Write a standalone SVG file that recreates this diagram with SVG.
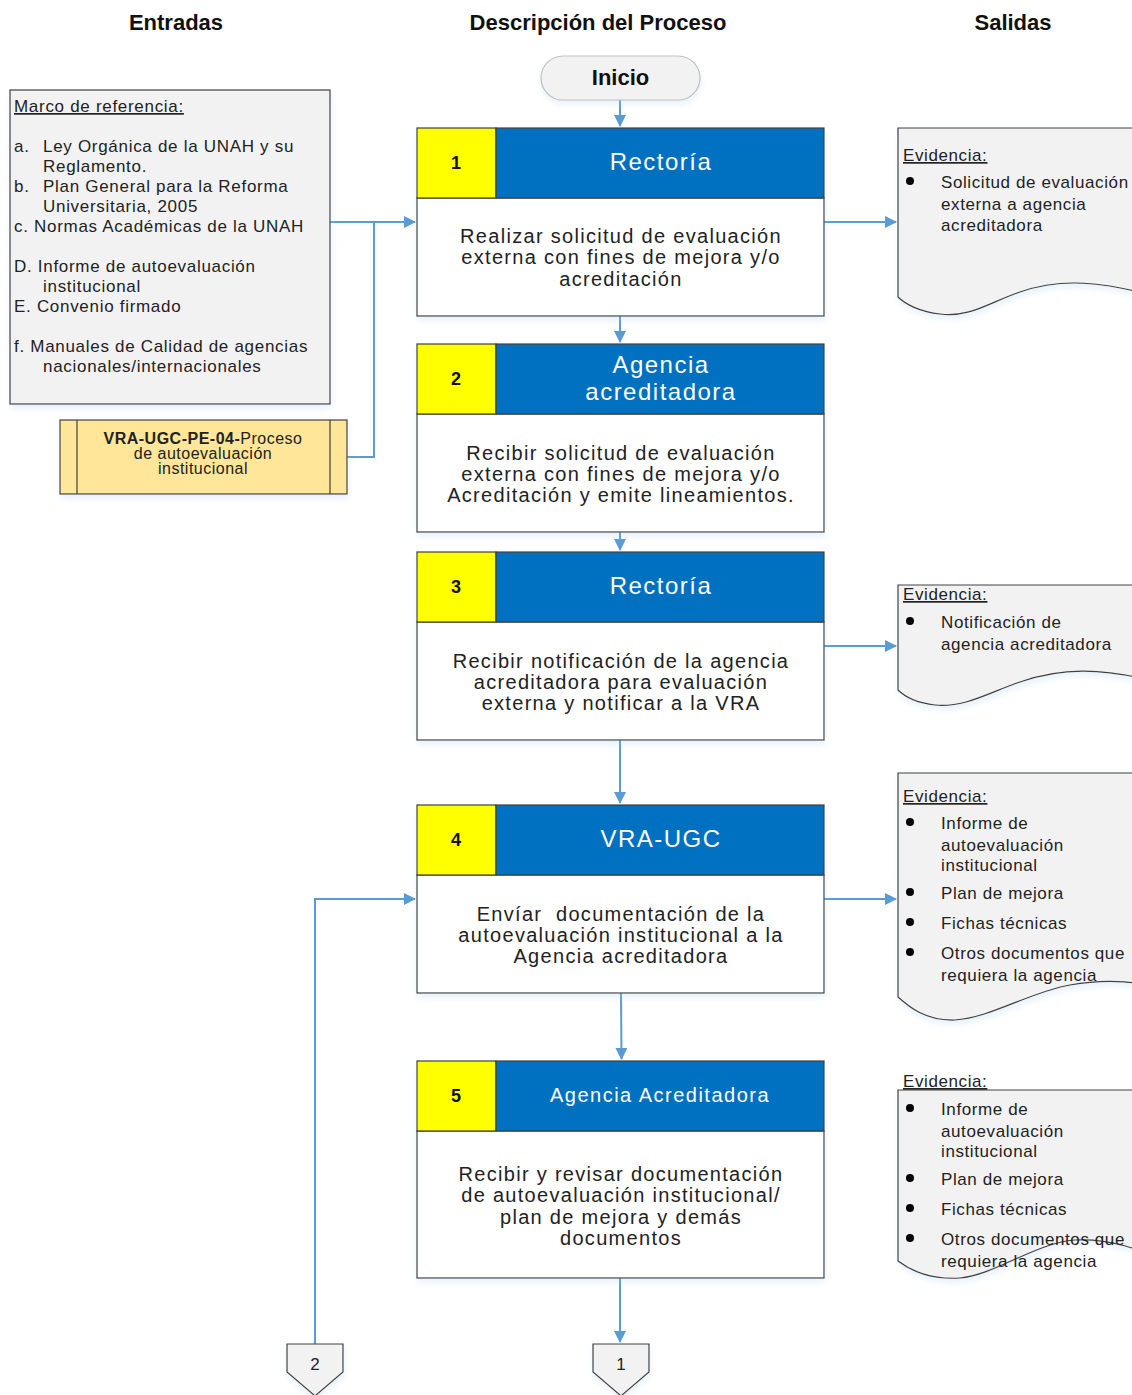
<svg xmlns="http://www.w3.org/2000/svg" width="1132" height="1395" viewBox="0 0 1132 1395">
<defs>
<style>
.t{font-family:"Liberation Sans",Arial,sans-serif;fill:#222}
.h{font-family:"Liberation Sans",Arial,sans-serif;font-weight:bold;font-size:22px;fill:#111;text-anchor:middle}
.body{font-size:20px;text-anchor:middle;letter-spacing:1.3px}
.hd{font-family:"Liberation Sans",Arial,sans-serif;fill:#fff;font-size:24px;text-anchor:middle;letter-spacing:1.5px}
.num{font-family:"Liberation Sans",Arial,sans-serif;font-weight:bold;font-size:18px;fill:#111;text-anchor:middle}
.sm{font-size:17px}
.lt{letter-spacing:0.7px}
.rt{letter-spacing:0.6px}
.box{fill:#fff;stroke:#404040;stroke-width:1.2}
.yel{fill:#ffff00;stroke:#404040;stroke-width:1.2}
.blu{fill:#0070c0;stroke:#404040;stroke-width:1.2}
.doc{fill:#f2f2f2;stroke:#404040;stroke-width:1.2}
.con{fill:none;stroke:#5b9bd5;stroke-width:2}
</style>
<marker id="ah" markerWidth="12" markerHeight="12" refX="11" refY="6" orient="auto" markerUnits="userSpaceOnUse">
<path d="M0,0 L12,6 L0,12 Z" fill="#5b9bd5"/>
</marker>
<filter id="sh" x="-10%" y="-10%" width="130%" height="130%">
<feGaussianBlur in="SourceAlpha" stdDeviation="3"/>
<feOffset dx="1" dy="4"/>
<feComponentTransfer><feFuncA type="linear" slope="0.25"/></feComponentTransfer>
<feColorMatrix type="matrix" values="0 0 0 0 0.36 0 0 0 0 0.6 0 0 0 0 0.84 0 0 0 1 0"/>
<feMerge><feMergeNode/><feMergeNode in="SourceGraphic"/></feMerge>
</filter>
</defs>
<rect width="1132" height="1395" fill="#fff"/>

<g id="headers">
<text class="h" x="176" y="30">Entradas</text>
<text class="h" x="598" y="30">Descripción del Proceso</text>
<text class="h" x="1013" y="30">Salidas</text>
</g>

<g id="connectors">
<path class="con" d="M620,100 V126" marker-end="url(#ah)"/>
<path class="con" d="M620,316 V342" marker-end="url(#ah)"/>
<path class="con" d="M620,532 V550" marker-end="url(#ah)"/>
<path class="con" d="M620,740 V803" marker-end="url(#ah)"/>
<path class="con" d="M621,993 L621.5,1059" marker-end="url(#ah)"/>
<path class="con" d="M620,1278 V1342" marker-end="url(#ah)"/>
<path class="con" d="M330,222 H415" marker-end="url(#ah)"/>
<path class="con" d="M347,457 H374 V222"/>
<path class="con" d="M824,222 H896" marker-end="url(#ah)"/>
<path class="con" d="M824,646 H896" marker-end="url(#ah)"/>
<path class="con" d="M824,899 H896" marker-end="url(#ah)"/>
<path class="con" d="M315,1344 V899 H415" marker-end="url(#ah)"/>
</g>

<g id="inicio">
<rect x="541" y="56" width="159" height="44" rx="22" fill="#f2f2f2" stroke="#bfbfbf" stroke-width="1.2" filter="url(#sh)"/>
<text class="h" x="620.5" y="85" style="font-size:22px">Inicio</text>
</g>

<g id="entradas">
<rect x="10" y="90" width="320" height="314" fill="#f2f2f2" stroke="#404040" stroke-width="1.2" filter="url(#sh)"/>
<g class="t sm lt">
<text x="14" y="112" text-decoration="underline">Marco de referencia:</text>
<text x="14" y="152">a.</text><text x="43" y="152">Ley Orgánica de la UNAH y su</text>
<text x="43" y="172">Reglamento.</text>
<text x="14" y="192">b.</text><text x="43" y="192">Plan General para la Reforma</text>
<text x="43" y="212">Universitaria, 2005</text>
<text x="14" y="232">c. Normas Académicas de la UNAH</text>
<text x="14" y="272">D. Informe de autoevaluación</text>
<text x="43" y="292">institucional</text>
<text x="14" y="312">E. Convenio firmado</text>
<text x="14" y="352">f. Manuales de Calidad de agencias</text>
<text x="43" y="372">nacionales/internacionales</text>
</g>
</g>

<g id="subproceso">
<rect x="60" y="420" width="287" height="74" fill="#ffe699" stroke="#404040" stroke-width="1.2" filter="url(#sh)"/>
<line x1="77" y1="420" x2="77" y2="494" stroke="#404040" stroke-width="1.2"/>
<line x1="330" y1="420" x2="330" y2="494" stroke="#404040" stroke-width="1.2"/>
<g class="t" style="font-size:16px;text-anchor:middle;letter-spacing:0.5px">
<text x="203" y="444"><tspan font-weight="bold">VRA-UGC-PE-04-</tspan>Proceso</text>
<text x="203" y="459">de autoevaluación</text>
<text x="203" y="474">institucional</text>
</g>
</g>

<g id="paso1" filter="url(#sh)">
<rect class="box" x="417" y="198" width="407" height="118"/>
<rect class="yel" x="417" y="128" width="79" height="70"/>
<rect class="blu" x="496" y="128" width="328" height="70"/>
</g>
<g id="paso1-text">
<text class="num" x="456" y="169">1</text>
<text class="hd" x="661" y="170">Rectoría</text>
<g class="t body">
<text x="621" y="243">Realizar solicitud de evaluación</text>
<text x="621" y="264">externa con fines de mejora y/o</text>
<text x="621" y="286">acreditación</text>
</g>
</g>

<g id="paso2" filter="url(#sh)">
<rect class="box" x="417" y="414" width="407" height="118"/>
<rect class="yel" x="417" y="344" width="79" height="70"/>
<rect class="blu" x="496" y="344" width="328" height="70"/>
</g>
<g id="paso2-text">
<text class="num" x="456" y="385">2</text>
<text class="hd" x="661" y="373">Agencia</text>
<text class="hd" x="661" y="400">acreditadora</text>
<g class="t body">
<text x="621" y="460">Recibir solicitud de evaluación</text>
<text x="621" y="481">externa con fines de mejora y/o</text>
<text x="621" y="502">Acreditación y emite lineamientos.</text>
</g>
</g>

<g id="paso3" filter="url(#sh)">
<rect class="box" x="417" y="622" width="407" height="118"/>
<rect class="yel" x="417" y="552" width="79" height="70"/>
<rect class="blu" x="496" y="552" width="328" height="70"/>
</g>
<g id="paso3-text">
<text class="num" x="456" y="593">3</text>
<text class="hd" x="661" y="594">Rectoría</text>
<g class="t body">
<text x="621" y="668">Recibir notificación de la agencia</text>
<text x="621" y="689">acreditadora para evaluación</text>
<text x="621" y="710">externa y notificar a la VRA</text>
</g>
</g>

<g id="paso4" filter="url(#sh)">
<rect class="box" x="417" y="875" width="407" height="118"/>
<rect class="yel" x="417" y="805" width="79" height="70"/>
<rect class="blu" x="496" y="805" width="328" height="70"/>
</g>
<g id="paso4-text">
<text class="num" x="456" y="846">4</text>
<text class="hd" x="661" y="847">VRA-UGC</text>
<g class="t body">
<text x="621" y="921" xml:space="preserve">Envíar  documentación de la</text>
<text x="621" y="942">autoevaluación institucional a la</text>
<text x="621" y="963">Agencia acreditadora</text>
</g>
</g>

<g id="paso5" filter="url(#sh)">
<rect class="box" x="417" y="1131" width="407" height="147"/>
<rect class="yel" x="417" y="1061" width="79" height="70"/>
<rect class="blu" x="496" y="1061" width="328" height="70"/>
</g>
<g id="paso5-text">
<text class="num" x="456" y="1102">5</text>
<text class="hd" x="660" y="1102" style="font-size:20px">Agencia Acreditadora</text>
<g class="t body">
<text x="621" y="1181">Recibir y revisar documentación</text>
<text x="621" y="1202">de autoevaluación institucional/</text>
<text x="621" y="1224">plan de mejora y demás</text>
<text x="621" y="1245">documentos</text>
</g>
</g>

<g id="salida1">
<path class="doc" filter="url(#sh)" d="M898,128 H1170 V300 C1100,280 1060,278 1020,292 C990,302 970,318 940,314 C920,312 905,304 898,297 Z"/>
<g class="t sm rt">
<text x="903" y="161" text-decoration="underline">Evidencia:</text>
<circle cx="910" cy="181" r="4" fill="#000"/>
<text x="941" y="188">Solicitud de evaluación</text>
<text x="941" y="210">externa a agencia</text>
<text x="941" y="231">acreditadora</text>
</g>
</g>

<g id="salida2">
<path class="doc" filter="url(#sh)" d="M898,585 H1170 V685 C1100,666 1060,668 1020,682 C990,692 965,708 935,705 C918,703 905,697 898,690 Z"/>
<g class="t sm rt">
<text x="903" y="600" text-decoration="underline">Evidencia:</text>
<circle cx="910" cy="621" r="4" fill="#000"/>
<text x="941" y="628">Notificación de</text>
<text x="941" y="650">agencia acreditadora</text>
</g>
</g>

<g id="salida3">
<path class="doc" filter="url(#sh)" d="M898,773 H1170 V990 C1140,982 1110,978 1070,985 C1030,992 990,1018 955,1020 C925,1021 908,1006 898,997 Z"/>
<g class="t sm rt">
<text x="903" y="802" text-decoration="underline">Evidencia:</text>
<circle cx="910" cy="822" r="4" fill="#000"/>
<text x="941" y="829">Informe de</text>
<text x="941" y="851">autoevaluación</text>
<text x="941" y="871">institucional</text>
<circle cx="910" cy="892" r="4" fill="#000"/>
<text x="941" y="899">Plan de mejora</text>
<circle cx="910" cy="922" r="4" fill="#000"/>
<text x="941" y="929">Fichas técnicas</text>
<circle cx="910" cy="952" r="4" fill="#000"/>
<text x="941" y="959">Otros documentos que</text>
<text x="941" y="981">requiera la agencia</text>
</g>
</g>

<g id="salida4">
<path class="doc" filter="url(#sh)" d="M898,1090 H1170 V1262 C1140,1250 1110,1238 1075,1240 C1035,1243 995,1275 960,1278 C930,1280 910,1270 898,1261 Z"/>
<g class="t sm rt">
<text x="903" y="1087" text-decoration="underline">Evidencia:</text>
<circle cx="910" cy="1108" r="4" fill="#000"/>
<text x="941" y="1115">Informe de</text>
<text x="941" y="1137">autoevaluación</text>
<text x="941" y="1157">institucional</text>
<circle cx="910" cy="1178" r="4" fill="#000"/>
<text x="941" y="1185">Plan de mejora</text>
<circle cx="910" cy="1208" r="4" fill="#000"/>
<text x="941" y="1215">Fichas técnicas</text>
<circle cx="910" cy="1238" r="4" fill="#000"/>
<text x="941" y="1245">Otros documentos que</text>
<text x="941" y="1267">requiera la agencia</text>
</g>
</g>

<g id="conector2">
<path d="M287,1344 H343 V1372 L315,1396 L287,1372 Z" fill="#f2f2f2" stroke="#404040" stroke-width="1.2" filter="url(#sh)"/>
<text class="t" x="315" y="1370" style="font-size:17px;text-anchor:middle">2</text>
</g>
<g id="conector1">
<path d="M593,1344 H649 V1372 L621,1396 L593,1372 Z" fill="#f2f2f2" stroke="#404040" stroke-width="1.2" filter="url(#sh)"/>
<text class="t" x="621" y="1370" style="font-size:17px;text-anchor:middle">1</text>
</g>
</svg>
